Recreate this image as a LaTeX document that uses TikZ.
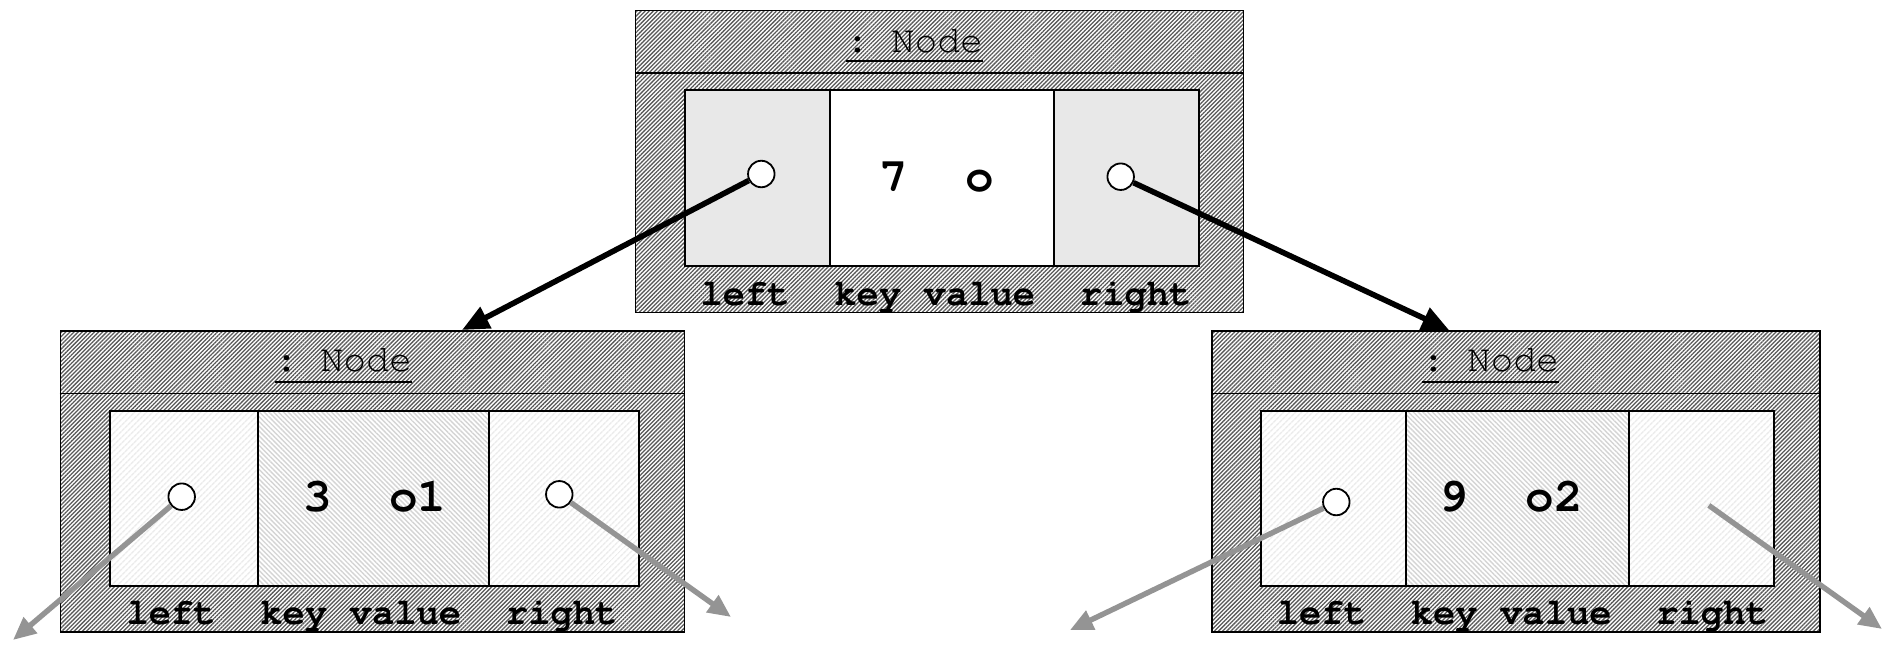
\documentclass[tikz,border=0pt]{standalone}
\usepackage[T1]{fontenc}
\usetikzlibrary{patterns.meta,arrows.meta}
\frenchspacing
\newcommand{\hdrfont}{\fontencoding{T1}\fontfamily{pcr}\fontseries{m}\fontsize{38}{40}\selectfont\frenchspacing}
\newcommand{\lblfont}{\fontencoding{T1}\fontfamily{pcr}\fontseries{b}\fontsize{37.2}{40}\selectfont\frenchspacing}
\newcommand{\keyfont}{\fontencoding{T1}\fontfamily{pcr}\fontseries{b}\fontsize{47.7}{50}\selectfont\frenchspacing}
\tikzset{
  objframe/.style={draw=black, line width=1.6pt, preaction={fill=white},
    pattern={Lines[angle=45,distance=2.9pt,line width=1.3pt]}, pattern color=black!65,
    inner sep=0pt, anchor=north west},
  cellgray/.style={draw=black, line width=1.8pt, fill=black!9, inner sep=0pt, anchor=north west},
  cellwhite/.style={draw=black, line width=1.8pt, fill=white, inner sep=0pt, anchor=north west},
  cellside/.style={draw=black, line width=1.8pt, preaction={fill=white},
    pattern={Lines[angle=45,distance=4pt,line width=1.6pt]}, pattern color=black!8,
    inner sep=0pt, anchor=north west},
  cellmid/.style={draw=black, line width=1.8pt, preaction={fill=white},
    pattern={Lines[angle=-45,distance=3.4pt,line width=1.4pt]}, pattern color=black!17,
    inner sep=0pt, anchor=north west},
  hdr/.style={inner sep=0pt, anchor=base, font=\hdrfont},
  lbl/.style={inner sep=0pt, anchor=base west, font=\lblfont},
  keytxt/.style={inner sep=0pt, anchor=base, font=\keyfont},
  ptr/.style={circle, draw=black, line width=1.8pt, fill=white, inner sep=0pt, minimum size=26.5pt},
  blackarrow/.style={draw=black, line width=5.6pt, -{Triangle[length=27pt,width=23pt]}},
  grayarrow/.style={draw=black!42, line width=5.4pt, -{Triangle[length=23pt,width=20pt]}},
  uline/.style={line width=2pt}
}
\begin{document}
\begin{tikzpicture}[x=1pt,y=-1pt]
\useasboundingbox (0,0) rectangle (1887,648);
% ---------- top node ----------
\node[objframe, minimum width=608pt, minimum height=302pt] (T) at (635,10) {};
\draw[line width=1.6pt] (T.west |- 0,73) -- (T.east |- 0,73);
\node[cellgray,  minimum width=145pt, minimum height=176pt] (Tl) at (684,89) {};
\node[cellwhite, minimum width=224pt, minimum height=176pt] (Tm) at (829,89) {};
\node[cellgray,  minimum width=145pt, minimum height=176pt] (Tr) at (1053,89) {};
\node[hdr] (Th) at (914.5,52.3) {: Node};
\draw[uline] ([yshift=-8.4pt]Th.base west) -- ([yshift=-8.4pt]Th.base east);
\node[keytxt] (Tk) at (936.4,191.7) {7~~o};
\node[lbl] (Tlab) at (700.3,305) {left~~key value~~right};
% ---------- lower left node ----------
\node[objframe, minimum width=624pt, minimum height=301pt] (L) at (59.5,330) {};
\draw[line width=1.6pt] (L.west |- 0,393.5) -- (L.east |- 0,393.5);
\node[cellside, minimum width=148.5pt, minimum height=175pt] (Ll) at (109,410) {};
\node[cellmid,  minimum width=230.2pt, minimum height=175pt] (Lm) at (257.5,410) {};
\node[cellside, minimum width=150.3pt, minimum height=175pt] (Lr) at (487.7,410) {};
\node[hdr] (Lh) at (343.4,371.7) {: Node};
\draw[uline] ([yshift=-10pt]Lh.base west) -- ([yshift=-10pt]Lh.base east);
\node[keytxt] (Lk) at (374.7,511.7) {3~~o1};
\node[lbl] (Llab) at (126.3,624.5) {left~~key value~~right};
% ---------- lower right node ----------
\node[objframe, minimum width=608pt, minimum height=301pt] (R) at (1211.3,330) {};
\draw[line width=1.6pt] (R.west |- 0,393.5) -- (R.east |- 0,393.5);
\node[cellside, minimum width=144.6pt, minimum height=175pt] (Rl) at (1260.4,410) {};
\node[cellmid,  minimum width=223.2pt, minimum height=175pt] (Rm) at (1405,410) {};
\node[cellside, minimum width=144.6pt, minimum height=175pt] (Rr) at (1628.2,410) {};
\node[hdr] (Rh) at (1490.5,371.7) {: Node};
\draw[uline] ([yshift=-10pt]Rh.base west) -- ([yshift=-10pt]Rh.base east);
\node[keytxt] (Rk) at (1511.4,511.7) {9~~o2};
\node[lbl] (Rlab) at (1276.7,624.5) {left~~key value~~right};
% ---------- pointer circles ----------
\node[ptr] (pTl) at (761.3,174) {};
\node[ptr] (pTr) at (1120.7,176.7) {};
\node[ptr] (pLl) at (181.7,496.7) {};
\node[ptr] (pLr) at (559.3,494.3) {};
\node[ptr] (pRl) at (1336.3,502) {};
% ---------- arrow end points ----------
\coordinate (tipTL) at (462,330);
\coordinate (tipTR) at (1449,330);
\coordinate (tipLl) at (13,640);
\coordinate (tipLr) at (731,617);
\coordinate (tipRl) at (1070,630);
\coordinate (startRr) at (1708.8,505.4);
\coordinate (tipRr) at (1882,629);
% ---------- connectors ----------
\draw[blackarrow] (pTl) -- (tipTL);
\draw[blackarrow] (pTr) -- (tipTR);
\draw[grayarrow] (pLl) -- (tipLl);
\draw[grayarrow] (pLr) -- (tipLr);
\draw[grayarrow] (pRl) -- (tipRl);
\draw[grayarrow] (startRr) -- (tipRr);
\end{tikzpicture}
\end{document}
